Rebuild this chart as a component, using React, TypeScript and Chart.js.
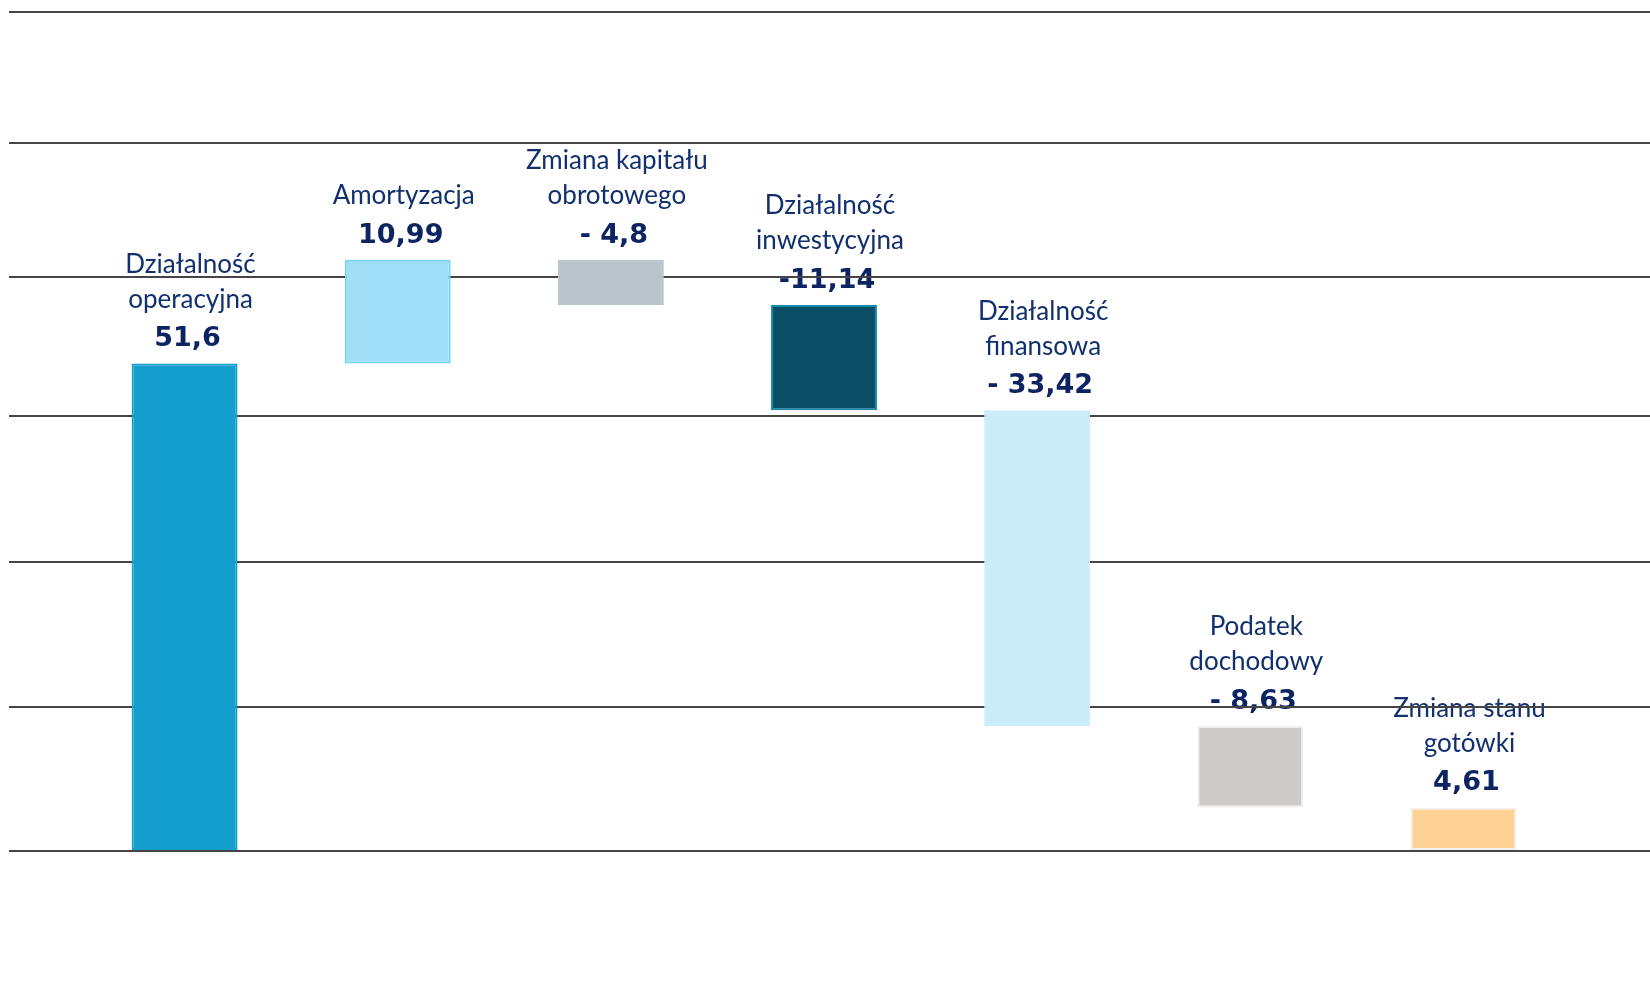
import React, { useEffect, useRef } from "react";
import { Chart, registerables } from "chart.js";

Chart.register(...registerables);

// ---- data ----
const categories: string[][] = [
  ["Działalność", "operacyjna"],
  ["Amortyzacja"],
  ["Zmiana kapitału", "obrotowego"],
  ["Działalność", "inwestycyjna"],
  ["Działalność", "finansowa"],
  ["Podatek", "dochodowy"],
  ["Zmiana stanu", "gotówki"],
];
const values: number[] = [51.6, 10.99, -4.8, -11.14, -33.42, -8.63, 4.61];
const isTotal: boolean[] = [true, false, false, false, false, false, true];
const valueLabels: string[] = ["51,6", "10,99", "- 4,8", "-11,14", "- 33,42", "- 8,63", "4,61"];
const gridValues: number[] = [0, 15.25, 30.6, 46.0, 60.75, 74.9, 88.8];

const fillColors = ["#149ecd", "#a1dff6", "#b8c4ca", "#0a4e65", "#cbedf9", "#cccbca", "#fed194"];
const borderColors = ["#149ecd", "#74d2f3", "#b8c4ca", "#1a87ad", "#cbedf9", "#efefef", "#f1f1f1"];

function waterfallRanges(): [number, number][] {
  let run = 0;
  return values.map((v, i) => {
    if (isTotal[i]) {
      run = v;
      return [0, v] as [number, number];
    }
    const start = run;
    run = run + v;
    return [start, run] as [number, number];
  });
}

const labelPlugin = {
  id: "wfLabels",
  beforeDraw(chart: any) {
    const ctx = chart.ctx as CanvasRenderingContext2D;
    const meta = chart.getDatasetMeta(0);
    meta.data.forEach((el: any, i: number) => {
      const { x, y, base } = el.getProps(["x", "y", "base"], true);
      const top = Math.min(y, base);
      ctx.save();
      ctx.textAlign = "center";
      ctx.textBaseline = "middle";
      ctx.fillStyle = "#0c2461";
      ctx.font = 'bold 27px "DejaVu Sans"';
      const numY = top - 24;
      ctx.fillText(valueLabels[i], x + 3, numY);
      ctx.font = '26px Lato';
      ctx.fillStyle = "#12306e";
      const lines = categories[i];
      let ly = numY - 40;
      for (let k = lines.length - 1; k >= 0; k--) {
        ctx.fillText(lines[k], x + 6, ly);
        ly -= 35;
      }
      ctx.restore();
    });
  },
};

const setTicks = (scale: any) => {
  scale.ticks = gridValues.map((v) => ({ value: v }));
};

export default function App() {
  const canvasRef = useRef<HTMLCanvasElement | null>(null);

  useEffect(() => {
    let chart: Chart | null = null;
    let cancelled = false;
    const make = () => {
      if (cancelled || !canvasRef.current) return;
      chart = new Chart(canvasRef.current, {
        type: "bar",
        data: {
          labels: categories,
          datasets: [
            {
              data: waterfallRanges() as any,
              backgroundColor: fillColors,
              borderColor: borderColors,
              borderWidth: 2,
              borderSkipped: false,
              barPercentage: 0.497,
              categoryPercentage: 1.0,
            },
          ],
        },
        options: {
          animation: false,
          responsive: true,
          maintainAspectRatio: false,
          layout: { padding: { left: 9, right: 0, top: 12, bottom: 133 } },
          plugins: {
            legend: { display: false },
            tooltip: { enabled: false },
          },
          scales: {
            x: { display: false },
            y: {
              position: "left",
              min: 0,
              max: 88.8,
              afterBuildTicks: setTicks,
              ticks: { display: false },
              border: { display: false },
              grid: { color: "#454545", lineWidth: 2, tickLength: 69, drawTicks: true },
            },
            y2: {
              position: "right",
              min: 0,
              max: 88.8,
              afterBuildTicks: setTicks,
              ticks: { display: false },
              border: { display: false },
              grid: { color: "#454545", lineWidth: 2, tickLength: 80, drawTicks: true, drawOnChartArea: false },
            },
          },
        },
        plugins: [labelPlugin],
      });
    };
    Promise.all([
      document.fonts.load('26px Lato'),
      document.fonts.load('bold 27px "DejaVu Sans"'),
    ])
      .catch(() => null)
      .then(make);
    return () => {
      cancelled = true;
      if (chart) chart.destroy();
    };
  }, []);

  return (
    <div style={{ position: "fixed", left: 0, top: 0, width: 1650, height: 984, background: "#ffffff" }}>
      <canvas ref={canvasRef} />
    </div>
  );
}
